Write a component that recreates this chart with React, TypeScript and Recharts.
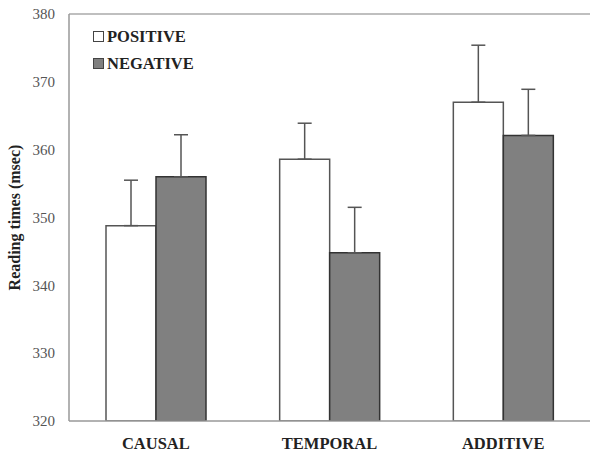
import React from 'react';
import { BarChart, Bar, XAxis, YAxis, ErrorBar, ReferenceLine } from 'recharts';

const categories = ['CAUSAL', 'TEMPORAL', 'ADDITIVE'];
const positive = [348.8, 358.6, 367.0];
const negative = [356.0, 344.8, 362.1];
const positiveErr = [6.7, 5.3, 8.4];
const negativeErr = [6.2, 6.7, 6.8];
const yTicks = [320, 330, 340, 350, 360, 370, 380];
const seriesNames = ['POSITIVE', 'NEGATIVE'];

const data = categories.map((c, i) => ({
  name: c,
  positive: positive[i],
  negative: negative[i],
  posErr: [0, positiveErr[i]],
  negErr: [0, negativeErr[i]],
}));

const FONT = '"Liberation Serif", "DejaVu Serif", serif';

const legendItems = [
  { label: seriesNames[0], fill: '#ffffff', stroke: '#444' },
  { label: seriesNames[1], fill: '#808080', stroke: '#444' },
];

export default function App() {
  return (
    <div style={{ position: 'absolute', left: 0, top: 0, width: 590, height: 453, background: '#fff' }}>
      <BarChart
        width={590}
        height={453}
        data={data}
        margin={{ top: 14, right: 0, bottom: 0, left: 0 }}
        barGap={0}
      >
        <XAxis
          dataKey="name"
          axisLine={{ stroke: '#999', strokeWidth: 1.5 }}
          tickLine={false}
          tickMargin={10}
          tick={{ fontFamily: FONT, fontWeight: 'bold', fontSize: 16.5, fill: '#222' }}
          height={32}
        />
        <YAxis
          domain={[320, 380]}
          ticks={yTicks}
          interval={0}
          allowDataOverflow
          width={69}
          axisLine={{ stroke: '#999', strokeWidth: 1.5 }}
          tickLine={false}
          tickMargin={8}
          tick={{ fontFamily: FONT, fontSize: 15, fill: '#555' }}
          label={{
            value: 'Reading times (msec)',
            angle: -90,
            position: 'insideLeft',
            offset: 14,
            style: { fontFamily: FONT, fontWeight: 'bold', fontSize: 16, fill: '#222', textAnchor: 'middle' },
          }}
        />
        <ReferenceLine y={380} stroke="#aaa" strokeWidth={1.5} />
        <Bar dataKey="positive" fill="#ffffff" stroke="#555" strokeWidth={1.5} barSize={50} isAnimationActive={false}>
          <ErrorBar dataKey="posErr" direction="y" width={7} stroke="#555" strokeWidth={1.5} isAnimationActive={false} />
        </Bar>
        <Bar dataKey="negative" fill="#808080" stroke="#333" strokeWidth={1.5} barSize={50} isAnimationActive={false}>
          <ErrorBar dataKey="negErr" direction="y" width={7} stroke="#555" strokeWidth={1.5} isAnimationActive={false} />
        </Bar>
      </BarChart>
      <div
        style={{
          position: 'absolute',
          left: 93,
          top: 23,
          fontFamily: FONT,
          fontWeight: 'bold',
          fontSize: 16.5,
          color: '#222',
          lineHeight: '27px',
        }}
      >
        {legendItems.map((it) => (
          <div key={it.label} style={{ display: 'flex', alignItems: 'center' }}>
            <span
              style={{
                display: 'inline-block',
                width: 9,
                height: 9,
                background: it.fill,
                border: `1.5px solid ${it.stroke}`,
                marginRight: 3,
              }}
            />
            <span>{it.label}</span>
          </div>
        ))}
      </div>
    </div>
  );
}
